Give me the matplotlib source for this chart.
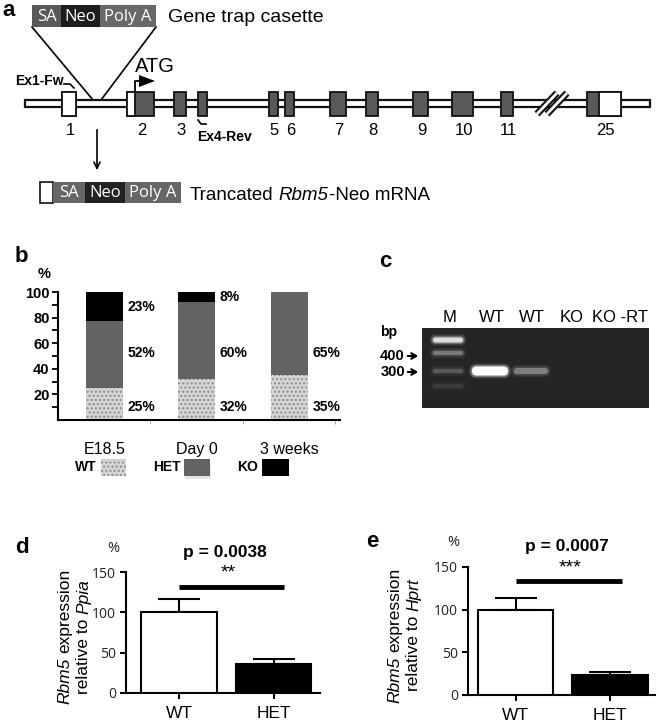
import matplotlib
matplotlib.use("Agg")
import matplotlib.pyplot as plt
from matplotlib.patches import Rectangle, Polygon, FancyBboxPatch

plt.rcParams['font.family'] = ['Liberation Sans', 'DejaVu Sans']
plt.rcParams['hatch.linewidth'] = 1.0

W, H = 660, 725

# ---- panel a: gene map (pixel layout of the drawing) ----
exon_x0 = [62, 127, 174, 198, 269, 285, 330, 366, 413, 452, 501, 587]
exon_x1 = [76, 154, 186, 207, 278, 294, 346, 378, 428, 473, 513, 621]
exon_names = ['1', '2', '3', '', '5', '6', '7', '8', '9', '10', '11', '25']
utr_x0 = [62, 127, 599]
utr_x1 = [76, 135, 621]
cassette_parts = ['SA', 'Neo', 'Poly A']
cassette_colors = ['#595959', '#1c1c1c', '#696969']
cassette_edges = [32, 61, 100, 156]
trunc_edges = [53, 85, 125, 181]

# ---- panel b: genotype distribution ----
stages = ['E18.5', 'Day 0', '3 weeks']
wt_pct = [25, 32, 35]
het_pct = [52, 60, 65]
ko_pct = [23, 8, 0]

# ---- panel c: gel ----
lanes = ['M', 'WT', 'WT', 'KO', 'KO -RT']
lane_x = [450, 492, 532, 572, 620]
band_x = [448, 448, 448, 448, 490, 531]
band_y = [340, 353, 371, 386, 371, 371]
band_w = [30, 30, 30, 30, 36, 34]
band_h = [5, 4, 4, 4, 9, 6]
band_c = ['#dedede', '#7a7a7a', '#595959', '#3a3a3a', '#ffffff', '#7e7e7e']

# ---- panels d, e: qPCR ----
geno = ['WT', 'HET']
ppia_mean = [100, 36]
ppia_err = [17, 6]
hprt_mean = [100, 24]
hprt_err = [14, 3]


def px_axes(fig, x0, x1, ytop, ybot):
    return fig.add_axes([x0 / W, 1 - ybot / H, (x1 - x0) / W, (ybot - ytop) / H])


def draw_box(ov, edges, y0, y1, names, colors, size):
    for i in range(len(names)):
        ov.add_patch(Rectangle((edges[i], y0), edges[i + 1] - edges[i], y1 - y0,
                               facecolor=colors[i], edgecolor='none', zorder=3))
        ov.text((edges[i] + edges[i + 1]) / 2, (y0 + y1) / 2 + 0.5, names[i],
                color='white', fontsize=size, family='Open Sans',
                ha='center', va='center', zorder=4)


def mixed_text(fig, ov, x, y, parts, size, vertical=False, center=True):
    # parts: (text, style); x, y is the baseline point (start or centre)
    r = fig.canvas.get_renderer()
    space = 0.278 * size * 100 / 72
    widths = []
    for s, st in parts:
        t = ov.text(0, 0, s.strip(), fontsize=size, style=st)
        w = t.get_window_extent(r).width
        t.remove()
        lead = len(s) - len(s.lstrip())
        trail = len(s) - len(s.rstrip())
        widths.append((lead * space, w, trail * space))
    total = sum(a + b + c for a, b, c in widths)
    pos = -total / 2 if center else 0
    for (s, st), (lead, w, trail) in zip(parts, widths):
        pos += lead
        if vertical:
            ov.text(x, y - pos, s.strip(), fontsize=size, style=st, rotation=90,
                    rotation_mode='anchor', ha='left', va='baseline')
        else:
            ov.text(x + pos, y, s.strip(), fontsize=size, style=st,
                    ha='left', va='baseline')
        pos += w + trail


def main():
    fig = plt.figure(figsize=(W / 100, H / 100), dpi=100)
    ov = fig.add_axes([0, 0, 1, 1])
    ov.set_xlim(0, W)
    ov.set_ylim(H, 0)
    ov.axis('off')

    # panel letters
    for lab, x, y in [('a', 2, 16), ('b', 15, 262), ('c', 379, 267),
                      ('d', 15, 553), ('e', 366, 547)]:
        ov.text(x, y, lab, fontsize=16, fontweight='bold', va='baseline')

    # cassette on top
    draw_box(ov, cassette_edges, 5, 27, cassette_parts, cassette_colors, 12)
    ov.text(168, 17, 'Gene trap casette', fontsize=14, va='center')
    ov.plot([32, 93], [27, 100], color='black', lw=1.2)
    ov.plot([156, 101], [27, 100], color='black', lw=1.2)

    # backbone
    ov.add_patch(Rectangle((25, 100), 625, 6.5, facecolor='white',
                           edgecolor='#111111', lw=1.6, zorder=2))
    for x0, x1 in zip(exon_x0, exon_x1):
        ov.add_patch(Rectangle((x0, 92), x1 - x0, 24, facecolor='#595959',
                               edgecolor='#111111', lw=1.3, zorder=3))
    for x0, x1 in zip(utr_x0, utr_x1):
        ov.add_patch(Rectangle((x0, 92), x1 - x0, 24, facecolor='white',
                               edgecolor='#111111', lw=1.3, zorder=4))
    for x0, x1, nm in zip(exon_x0, exon_x1, exon_names):
        ov.text((x0 + x1) / 2 + 1, 130, nm, fontsize=12, ha='center', va='center')

    # break mark
    for dx in (0, 10):
        ov.plot([537 + dx, 557 + dx], [114, 93], color='#111111', lw=5,
                solid_capstyle='butt', zorder=5)
        ov.plot([537 + dx, 557 + dx], [114, 93], color='white', lw=2,
                solid_capstyle='butt', zorder=6)

    # ATG arrow
    ov.plot([135, 135, 141], [92, 81, 81], color='black', lw=1.3, zorder=5)
    ov.add_patch(Polygon([(139, 75), (155, 81), (139, 87)], closed=True,
                         facecolor='black', edgecolor='none', zorder=5))
    ov.text(155, 66, 'ATG', fontsize=14.5, ha='center', va='center')

    # primers
    ov.text(15, 80.5, 'Ex1-Fw', fontsize=10, fontweight='bold', va='center')
    ov.plot([64, 70, 74], [84, 84, 88], color='black', lw=1.2)
    ov.text(197, 137, 'Ex4-Rev', fontsize=10, fontweight='bold', va='center')
    ov.plot([198, 201, 206], [120, 124, 124], color='black', lw=1.2)

    # down arrow and truncated transcript
    ov.annotate('', xy=(97, 173), xytext=(97, 127),
                arrowprops=dict(arrowstyle='->,head_length=0.45,head_width=0.22',
                                lw=1.2, color='black'))
    ov.add_patch(Rectangle((40, 182), 13, 21, facecolor='white',
                           edgecolor='#111111', lw=1.2, zorder=3))
    draw_box(ov, trunc_edges, 182, 203, cassette_parts,
             ['#666666', '#222222', '#666666'], 12)
    mixed_text(fig, ov, 190, 199.5, [('Trancated ', 'normal'), ('Rbm5', 'italic'),
                                     ('-Neo mRNA', 'normal')], 13.5, center=False)

    # ---- panel b ----
    ax = px_axes(fig, 58, 340, 292, 420)
    ax.set_facecolor('none')
    x = list(range(len(stages)))
    bottom_ko = [w + h for w, h in zip(wt_pct, het_pct)]
    ax.bar(x, wt_pct, width=0.4, color='#d6d6d6', hatch='....',
           edgecolor='#8c8c8c', linewidth=0)
    ax.bar(x, het_pct, width=0.4, bottom=wt_pct, color='#636363', linewidth=0)
    ax.bar(x, ko_pct, width=0.4, bottom=bottom_ko, color='black', linewidth=0)
    for i in x:
        ax.text(i + 0.25, 10, f'{wt_pct[i]}%', fontsize=10, fontweight='bold', va='center')
        ax.text(i + 0.25, 52, f'{het_pct[i]}%', fontsize=10, fontweight='bold', va='center')
        if ko_pct[i] > 0:
            ax.text(i + 0.25, bottom_ko[i] + ko_pct[i] / 2, f'{ko_pct[i]}%',
                    fontsize=10, fontweight='bold', va='center')
    ax.set_xlim(-0.5, 2.55)
    ax.set_ylim(0, 100)
    ax.set_xticks(x)
    ax.set_xticklabels(stages, fontsize=11.5)
    ax.set_xticks([0.5, 1.5, 2.5], minor=True)
    ax.tick_params(axis='x', which='major', length=0, pad=16)
    ax.tick_params(axis='x', which='minor', length=3, color='#999999', direction='out')
    ax.set_yticks([20, 40, 60, 80, 100])
    ax.set_yticks([10, 30, 50, 70, 90], minor=True)
    ax.tick_params(axis='y', which='both', length=4, width=1.3, pad=2)
    for t in ax.get_yticklabels():
        t.set_fontweight('bold')
        t.set_fontsize(10.5)
    for s in ['top', 'right']:
        ax.spines[s].set_visible(False)
    ax.spines['left'].set_linewidth(1.5)
    ax.spines['bottom'].set_linewidth(1.5)
    ov.text(44, 274, '%', fontsize=10.5, fontweight='bold', ha='center', va='center')

    # legend for b
    for lab, tx, rx0, rx1, col in [('WT', 96, 101, 126, '#d6d6d6'),
                                   ('HET', 181, 184, 210, '#636363'),
                                   ('KO', 258, 262, 289, 'black')]:
        ov.text(tx, 467, lab, fontsize=10, fontweight='bold', ha='right', va='center')
        if lab == 'HET':
            ov.add_patch(Rectangle((rx0 + 1, 463), rx1 - rx0, 16, facecolor='#cccccc',
                                   edgecolor='none', alpha=0.5))
        ov.add_patch(Rectangle((rx0, 459), rx1 - rx0, 17, facecolor=col,
                               hatch='....' if lab == 'WT' else None,
                               edgecolor='#8c8c8c' if lab == 'WT' else 'none', lw=0))

    # ---- panel c: gel ----
    ov.add_patch(Rectangle((422, 328), 227, 80, facecolor='#252525', edgecolor='none'))
    for bx, by, bw, bh, bc in zip(band_x, band_y, band_w, band_h, band_c):
        for grow, a in [(6, 0.15), (3, 0.3)]:
            ov.add_patch(FancyBboxPatch((bx - bw / 2 - grow / 2, by - bh / 2 - grow / 2),
                                        bw + grow, bh + grow,
                                        boxstyle='round,pad=0,rounding_size=%g' % ((bh + grow) / 2),
                                        facecolor=bc, edgecolor='none', alpha=a))
        ov.add_patch(FancyBboxPatch((bx - bw / 2, by - bh / 2), bw, bh,
                                    boxstyle='round,pad=0,rounding_size=%g' % (bh / 2),
                                    facecolor=bc, edgecolor='none'))
    for lx, ln in zip(lane_x, lanes):
        ov.text(lx, 317, ln, fontsize=12, ha='center', va='center')
    ov.text(380, 332, 'bp', fontsize=10, fontweight='bold', va='center')
    for lab, yy in [('400', 356), ('300', 372)]:
        ov.text(405, yy, lab, fontsize=10.5, fontweight='bold', ha='right', va='center')
        ov.annotate('', xy=(421, yy), xytext=(405, yy),
                    arrowprops=dict(arrowstyle='->,head_length=0.35,head_width=0.2',
                                    lw=1.5, color='black'))

    # ---- panels d, e ----
    specs = [
        (126, 320, 572, 693, -0.56, 1.49, ppia_mean, ppia_err, 131, 1.11,
         'p = 0.0038', '**', 225, 63, 82, 'Ppia', 113),
        (468, 655, 567, 695, -0.503, 1.476, hprt_mean, hprt_err, 134, 1.13,
         'p = 0.0007', '***', 567, 393, 412, 'Hprt', 453),
    ]
    for (x0, x1, yt, yb, xl, xr, mean, err, sig_y, sig_x1, ptxt, stars, pcx,
         l1x, l2x, ref, pctx) in specs:
        ax = px_axes(fig, x0, x1, yt, yb)
        ax.set_facecolor('none')
        xs = [0, 1]
        ax.bar(xs, mean, width=0.8, color=['white', 'black'], edgecolor='black',
               linewidth=1.5, zorder=3)
        ax.errorbar(xs, mean, yerr=[[0, 0], err], fmt='none', ecolor='black',
                    elinewidth=1.5, capsize=15, capthick=1.5, zorder=2)
        ax.plot([0, sig_x1], [sig_y, sig_y], color='black', lw=3.5,
                solid_capstyle='butt', clip_on=False)
        ax.set_xlim(xl, xr)
        ax.set_ylim(0, 150)
        ax.set_xticks(xs)
        ax.set_xticklabels(geno, fontsize=12.5)
        ax.set_yticks([0, 50, 100, 150])
        ax.set_yticklabels(['0', '50', '100', '150'], family='Open Sans',
                           fontsize=10, color='#222222')
        ax.tick_params(length=4, width=1.5, pad=3)
        ax.tick_params(axis='x', pad=5)
        for s in ['top', 'right']:
            ax.spines[s].set_visible(False)
        ax.spines['left'].set_linewidth(1.5)
        ax.spines['bottom'].set_linewidth(1.5)
        ymid = (yt + yb) / 2 + 4
        mixed_text(fig, ov, l1x + 6, ymid, [('Rbm5', 'italic'), (' expression', 'normal')],
                   12.5, vertical=True)
        mixed_text(fig, ov, l2x + 6, ymid, [('relative to ', 'normal'), (ref, 'italic')],
                   12.5, vertical=True)
        ov.text(pcx, yt - 20, ptxt, fontsize=12.5, fontweight='bold',
                ha='center', va='center')
        ov.text(pcx + 3, yt + 1, stars, fontsize=14, ha='center', va='center')
        ov.text(pctx, yt - 24, '%', fontsize=10.5, family='Open Sans',
                color='#222222', ha='center', va='center')

    fig.savefig('out.png', dpi=100)


if __name__ == "__main__":
    main()
